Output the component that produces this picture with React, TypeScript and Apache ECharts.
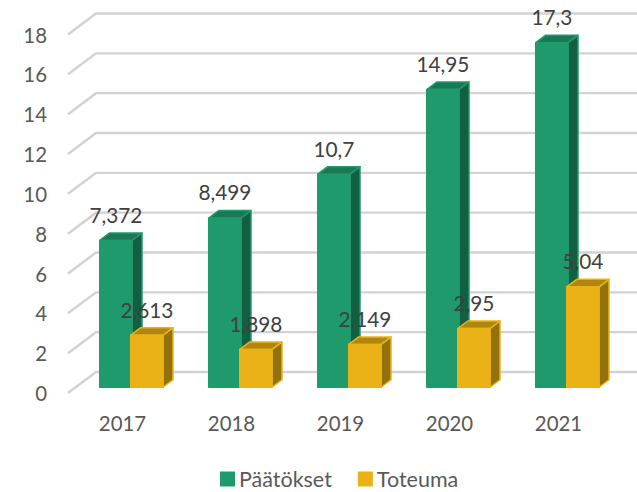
import React, { useEffect, useRef } from "react";
import * as echarts from "echarts";

const categories = ["2017", "2018", "2019", "2020", "2021"];
const paatokset = [7.372, 8.499, 10.7, 14.95, 17.3];
const toteuma = [2.613, 1.898, 2.149, 2.95, 5.04];
const gridValues = [0, 2, 4, 6, 8, 10, 12, 14, 16, 18];

const FONT = "Lato";
const DX = 10;
const DY = -7.5;

function barRenderer(offset: number, w: number, front: string, side: string, top: string, stroke: string) {
  return (_p: any, api: any) => {
    const idx = api.value(0);
    const v = api.value(1);
    const p = api.coord([idx, v]);
    const base = api.coord([idx, 0]);
    const x0 = p[0] + offset;
    const x1 = x0 + w;
    const yT = p[1] - 5.75;
    const yB = base[1] - 5.75;
    const style = (fill: string) => ({ fill, stroke, lineWidth: 1.5, lineJoin: "round" });
    const label = String(v).replace(".", ",");
    return {
      type: "group",
      children: [
        { type: "polygon", shape: { points: [[x1, yT], [x1 + DX, yT + DY], [x1 + DX, yB + DY], [x1, yB]] }, style: style(side) },
        { type: "polygon", shape: { points: [[x0, yT], [x0 + DX, yT + DY], [x1 + DX, yT + DY], [x1, yT]] }, style: style(top) },
        { type: "polygon", shape: { points: [[x0, yT], [x1, yT], [x1, yB], [x0, yB]] }, style: style(front) },
        {
          type: "text",
          style: {
            x: (x0 + x1) / 2,
            y: yT - 26,
            text: label,
            fill: "#404040",
            font: `20.8px ${FONT}`,
            align: "center",
            verticalAlign: "middle",
          },
        },
      ],
    };
  };
}

export default function App() {
  const ref = useRef<HTMLDivElement>(null);
  useEffect(() => {
    const chart = echarts.init(ref.current!, undefined, { renderer: "svg" });
    chart.setOption({
      animation: false,
      backgroundColor: "#ffffff",
      textStyle: { fontFamily: FONT },
      grid: { left: 68, top: 34.5, width: 545, height: 358.5, containLabel: false },
      legend: {
        left: 215,
        top: 463,
        itemWidth: 15,
        itemHeight: 15,
        itemGap: 26,
        icon: "rect",
        selectedMode: false,
        data: ["Päätökset", "Toteuma"],
        textStyle: { fontFamily: FONT, fontSize: 21.5, lineHeight: 20, color: "#595959", padding: [0, 0, 0, -1] },
      },
      xAxis: {
        type: "category",
        data: categories,
        axisLine: { show: false },
        axisTick: { show: false },
        axisLabel: { color: "#595959", fontSize: 20.4, fontFamily: FONT, margin: 19.5 },
      },
      yAxis: {
        type: "value",
        min: 0,
        max: 18,
        interval: 2,
        axisLine: { show: false },
        axisTick: { show: false },
        splitLine: { show: false },
        axisLabel: { color: "#595959", fontSize: 20.4, fontFamily: FONT, margin: 21 },
      },
      series: [
        {
          name: "grid",
          type: "custom",
          silent: true,
          z: 1,
          clip: false,
          encode: { x: 0, y: 1 },
          data: gridValues.map((v) => [0, v]),
          renderItem: (params: any, api: any) => {
            const y = api.coord([0, api.value(1)])[1];
            const cs = params.coordSys;
            return {
              type: "polyline",
              shape: { points: [[cs.x, y], [cs.x + 28, y - 21], [cs.x + cs.width + 28, y - 21]] },
              style: { fill: "none", stroke: "#d2d2d2", lineWidth: 2.4 },
            };
          },
        },
        {
          name: "Päätökset",
          type: "custom",
          z: 2,
          clip: false,
          itemStyle: { color: "#1f9a6c" },
          encode: { x: 0, y: 1 },
          data: paatokset.map((v, i) => [i, v]),
          renderItem: barRenderer(-22.75, 32.25, "#1f9a6c", "#125f42", "#1b7856", "#1f9a6c"),
        },
        {
          name: "Toteuma",
          type: "custom",
          z: 3,
          clip: false,
          itemStyle: { color: "#eab216" },
          encode: { x: 0, y: 1 },
          data: toteuma.map((v, i) => [i, v]),
          renderItem: barRenderer(8.25, 32.25, "#eab216", "#93710d", "#b0860f", "#eab216"),
        },
      ],
    });
    return () => chart.dispose();
  }, []);
  return <div ref={ref} style={{ position: "absolute", left: 0, top: 0, width: 637, height: 492 }} />;
}
